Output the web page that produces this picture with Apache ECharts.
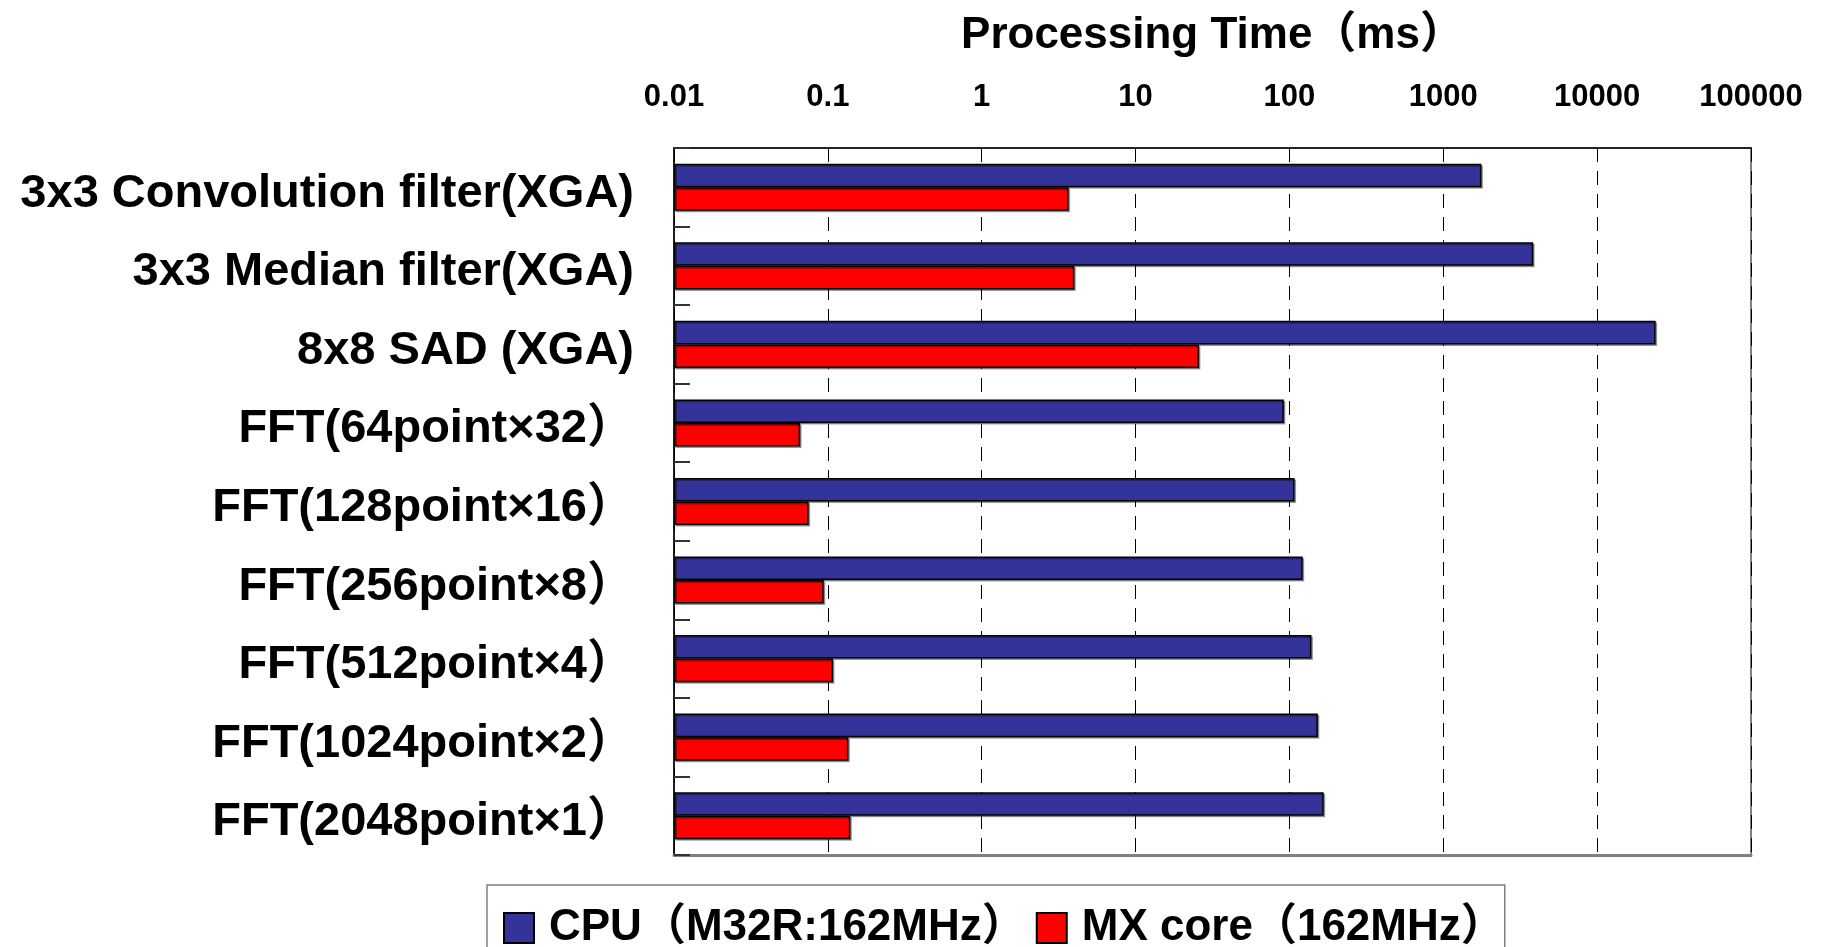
<!DOCTYPE html>
<html>
<head>
<meta charset="utf-8">
<title>Processing Time</title>
<script src="https://cdn.jsdelivr.net/npm/echarts@6/dist/echarts.min.js"></script>
<style>
  html, body { margin: 0; padding: 0; background: #ffffff; }
  #chart { width: 1834px; height: 947px; }
</style>
</head>
<body>
<div id="chart"></div>
<script>
// Benchmark workloads, top to bottom
const categories = [
  '3x3 Convolution filter(XGA)',
  '3x3 Median filter(XGA)',
  '8x8 SAD (XGA)',
  'FFT(64point×32）',
  'FFT(128point×16）',
  'FFT(256point×8）',
  'FFT(512point×4）',
  'FFT(1024point×2）',
  'FFT(2048point×1）'
];

// Processing time in ms
const cpuTimes = [1770, 3840, 24000, 92, 108, 122, 139, 153, 167];
const mxTimes = [3.67, 4.0, 25.8, 0.066, 0.075, 0.094, 0.108, 0.136, 0.14];

const seriesNames = ['CPU（M32R:162MHz）', 'MX core（162MHz）'];

// Decade labels along the log axis
const tickLabels = ['0.01', '0.1', '1', '10', '100', '1000', '10000', '100000'];

const FONT = '"Liberation Sans", "Noto Sans CJK JP", Arial, sans-serif';

const chart = echarts.init(document.getElementById('chart'), null, { renderer: 'canvas' });

function decadeLabel(v) {
  const i = Math.round(Math.log10(v)) + 2;
  return tickLabels[i] !== undefined ? tickLabels[i] : String(v);
}

const barStyle = (color) => ({
  color: color,
  borderColor: '#000000',
  borderWidth: 1.5,
  shadowColor: 'rgba(0,0,0,0.35)',
  shadowOffsetX: 1.5,
  shadowOffsetY: 1.5,
  shadowBlur: 0
});

chart.setOption({
  animation: false,
  backgroundColor: '#ffffff',
  textStyle: { fontFamily: FONT },
  grid: {
    left: 674, right: 83, top: 148, bottom: 92,
    show: true,
    borderColor: '#808080',
    borderWidth: 2,
    backgroundColor: 'transparent'
  },
  legend: {
    left: 487,
    top: 885,
    orient: 'horizontal',
    itemWidth: 30,
    itemHeight: 30,
    itemGap: 10,
    padding: [21, 0, 20, 16],
    borderColor: '#808080',
    borderWidth: 1.5,
    icon: 'rect',
    data: seriesNames,
    textStyle: {
      fontFamily: FONT,
      fontSize: 44,
      fontWeight: 'bold',
      color: '#000000',
      padding: [0, 0, 0, 10]
    }
  },
  xAxis: [
    {
      type: 'log',
      logBase: 10,
      min: 0.01,
      max: 100000,
      startValue: 0.01,
      position: 'top',
      name: 'Processing Time（ms）',
      nameLocation: 'middle',
      nameGap: 90,
      nameTextStyle: {
        fontFamily: FONT,
        fontSize: 44,
        fontWeight: 'bold',
        color: '#000000'
      },
      axisLine: { show: true, lineStyle: { color: '#222222', width: 2 } },
      axisTick: { show: false },
      axisLabel: {
        margin: 35,
        fontFamily: FONT,
        fontSize: 31,
        fontWeight: 'bold',
        color: '#000000',
        formatter: decadeLabel
      },
      splitLine: {
        show: true,
        lineStyle: { color: '#000000', width: 1, type: [14, 9] }
      }
    },
    {
      type: 'log',
      logBase: 10,
      min: 0.01,
      max: 100000,
      position: 'bottom',
      axisLine: { show: true, lineStyle: { color: '#808080', width: 3 } },
      axisTick: { show: false },
      axisLabel: { show: false },
      splitLine: { show: false }
    }
  ],
  yAxis: {
    type: 'category',
    inverse: true,
    data: categories,
    axisLine: { show: true, lineStyle: { color: '#000000', width: 1.5 } },
    axisTick: {
      show: true,
      inside: true,
      length: 16,
      lineStyle: { color: '#333333', width: 2 }
    },
    axisLabel: {
      margin: 40,
      color: '#000000',
      formatter: (v) => '{c|' + v + '}',
      rich: {
        c: {
          fontFamily: FONT,
          fontSize: 47,
          fontWeight: 'bold',
          color: '#000000',
          lineHeight: 60,
          verticalAlign: 'bottom'
        }
      }
    },
    splitLine: { show: false }
  },
  series: [
    {
      name: seriesNames[0],
      type: 'bar',
      xAxisIndex: 0,
      data: cpuTimes,
      barGap: '0%',
      barCategoryGap: '40%',
      itemStyle: barStyle('#333399')
    },
    {
      name: seriesNames[1],
      type: 'bar',
      xAxisIndex: 0,
      data: mxTimes,
      barGap: '0%',
      barCategoryGap: '40%',
      itemStyle: barStyle('#ff0000')
    }
  ]
});
</script>
</body>
</html>
